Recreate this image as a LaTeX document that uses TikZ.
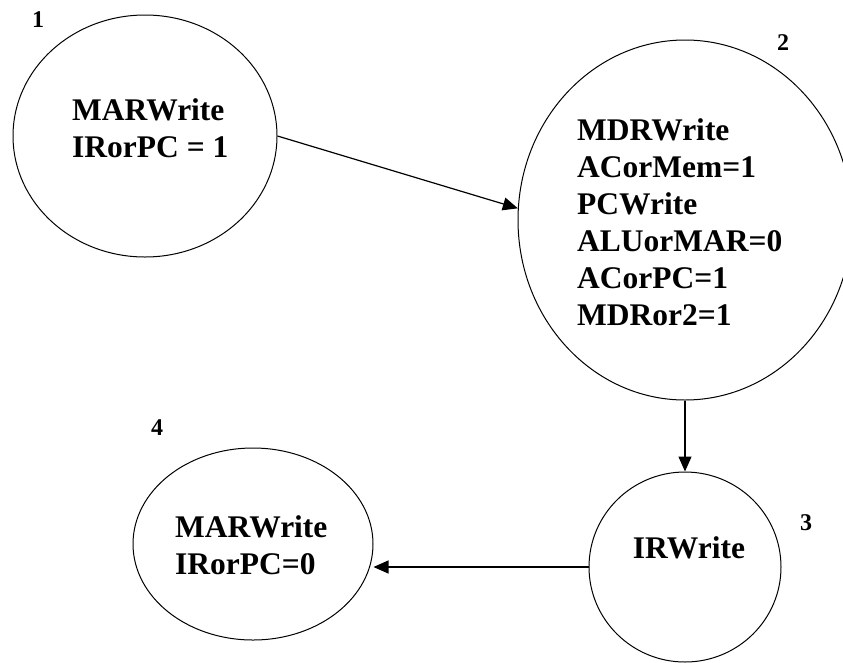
\documentclass[tikz,border=0pt]{standalone}
\usepackage{fontspec}
\setmainfont{Liberation Serif}
\usetikzlibrary{shapes.geometric,arrows.meta}

\begin{document}
\begin{tikzpicture}[x=1pt,y=-1pt,
  state/.style={draw,ellipse,line width=1pt,inner sep=0pt},
  statetext/.style={font=\bfseries\fontsize{31.5}{37}\selectfont,align=left,anchor=west,inner sep=0pt},
  num/.style={font=\bfseries\fontsize{24}{28}\selectfont,inner sep=0pt},
  trans/.style={-{Triangle[length=15pt,width=13pt]},line width=1.2pt}]
\useasboundingbox (0,0) rectangle (843,662);

% State 1
\node[state,minimum width=264pt,minimum height=242pt] (s1) at (145,136) {};
\node[statetext] (t1) at (72,128) {MARWrite\\IRorPC = 1};
\node[num] (n1) at (38,20) {1};

% State 2
\node[state,minimum width=334pt,minimum height=360pt] (s2) at (685,220) {};
\node[statetext] (t2) at (577,222) {MDRWrite\\ACorMem=1\\PCWrite\\ALUorMAR=0\\ACorPC=1\\MDRor2=1};
\node[num] (n2) at (783,43) {2};

% State 3
\node[state,minimum width=192pt,minimum height=190pt] (s3) at (685,567) {};
\node[statetext,anchor=center] (t3) at (689,548) {IRWrite};
\node[num] (n3) at (806,523) {3};

% State 4
\node[state,minimum width=240pt,minimum height=192pt] (s4) at (253,544) {};
\node[statetext] (t4) at (175,545) {MARWrite\\IRorPC=0};
\node[num] (n4) at (157,428) {4};

% Transitions
\draw[trans] (s1.east) -- (s2.176);
\draw[trans] (s2.south) -- (s3.north);
\draw[trans] (s3.west) -- (s3.west -| s4.east);
\end{tikzpicture}
\end{document}
